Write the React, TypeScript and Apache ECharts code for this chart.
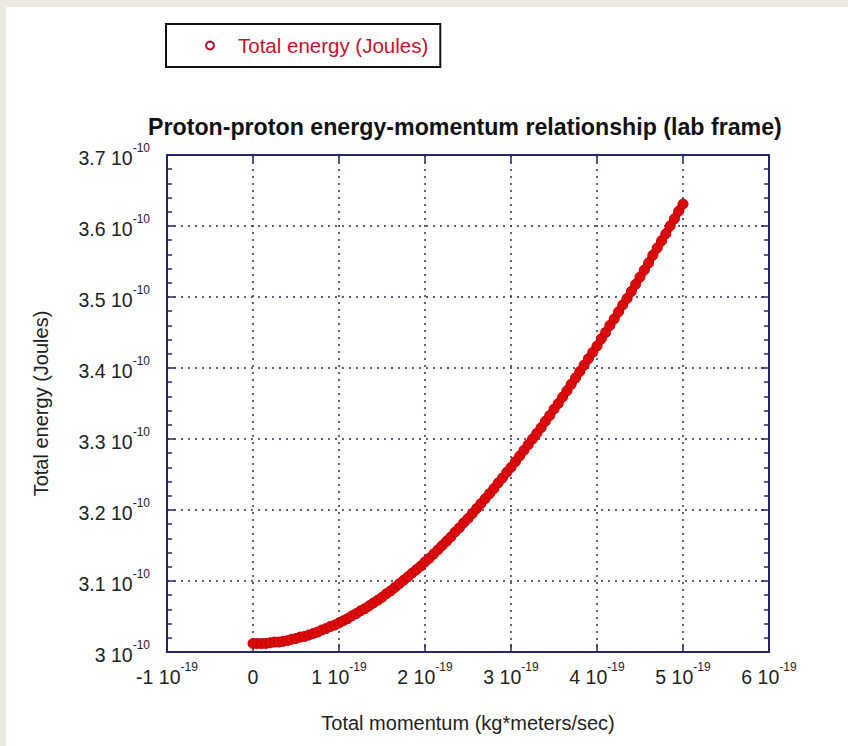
import React, { useEffect, useRef } from 'react';
import * as echarts from 'echarts';

const FONT = "'Liberation Sans', Arial, sans-serif";

// Total momentum (units of 1e-19 kg*m/s)
const momentum = [
  0, 0.05, 0.1, 0.15, 0.2, 0.25, 0.3, 0.35, 0.4, 0.45,
  0.5, 0.55, 0.6, 0.65, 0.7, 0.75, 0.8, 0.85, 0.9, 0.95,
  1.0, 1.05, 1.1, 1.15, 1.2, 1.25, 1.3, 1.35, 1.4, 1.45,
  1.5, 1.55, 1.6, 1.65, 1.7, 1.75, 1.8, 1.85, 1.9, 1.95,
  2.0, 2.05, 2.1, 2.15, 2.2, 2.25, 2.3, 2.35, 2.4, 2.45,
  2.5, 2.55, 2.6, 2.65, 2.7, 2.75, 2.8, 2.85, 2.9, 2.95,
  3.0, 3.05, 3.1, 3.15, 3.2, 3.25, 3.3, 3.35, 3.4, 3.45,
  3.5, 3.55, 3.6, 3.65, 3.7, 3.75, 3.8, 3.85, 3.9, 3.95,
  4.0, 4.05, 4.1, 4.15, 4.2, 4.25, 4.3, 4.35, 4.4, 4.45,
  4.5, 4.55, 4.6, 4.65, 4.7, 4.75, 4.8, 4.85, 4.9, 4.95,
  5.0,
];

// Total energy (units of 1e-10 J)
const energy = [
  3.012, 3.012, 3.012, 3.012, 3.013, 3.014, 3.014, 3.015, 3.016, 3.018,
  3.019, 3.021, 3.022, 3.024, 3.026, 3.028, 3.031, 3.033, 3.036, 3.038,
  3.041, 3.044, 3.047, 3.051, 3.054, 3.058, 3.061, 3.065, 3.069, 3.073,
  3.077, 3.082, 3.086, 3.091, 3.096, 3.101, 3.106, 3.111, 3.116, 3.121,
  3.127, 3.132, 3.138, 3.144, 3.150, 3.156, 3.162, 3.169, 3.175, 3.182,
  3.188, 3.195, 3.202, 3.209, 3.216, 3.223, 3.230, 3.238, 3.245, 3.253,
  3.260, 3.268, 3.276, 3.284, 3.292, 3.300, 3.308, 3.316, 3.325, 3.333,
  3.342, 3.350, 3.359, 3.368, 3.377, 3.386, 3.395, 3.404, 3.413, 3.422,
  3.431, 3.441, 3.450, 3.460, 3.469, 3.479, 3.489, 3.498, 3.508, 3.518,
  3.528, 3.538, 3.548, 3.559, 3.569, 3.579, 3.589, 3.600, 3.610, 3.621,
  3.631,
];

const xTickExponent = '-19';
const yTickExponent = '-10';
const seriesName = 'Total energy (Joules)';
const titleText = 'Proton-proton energy-momentum relationship (lab frame)';
const xName = 'Total momentum (kg*meters/sec)';
const yName = 'Total energy (Joules)';

const NAVY = '#26266e';
const GRID = '#2e2e50';
const LABEL = '#222222';
const RED = '#dc0a0a';

const richLabel = {
  b: { fontSize: 19.5, color: LABEL, fontFamily: FONT, padding: [6, 0, 0, 0] },
  s: { fontSize: 12, color: LABEL, fontFamily: FONT, verticalAlign: 'top' },
};

const fmt = (v: number, exp: string) => {
  const n = Number(v.toFixed(1));
  if (n === 0 && exp === xTickExponent) return '{b|0}';
  return `{b|${n} 10}{s|${exp}}`;
};

export default function App() {
  const ref = useRef<HTMLDivElement>(null);
  useEffect(() => {
    if (!ref.current) return;
    const chart = echarts.init(ref.current, null, { renderer: 'svg' });
    const data = momentum.map((m, i) => [m, energy[i]]);
    const frameAxisCommon = {
      axisLine: { show: true, onZero: false, lineStyle: { color: NAVY, width: 2 } },
    };
    chart.setOption({
      animation: false,
      backgroundColor: '#ffffff',
      textStyle: { fontFamily: FONT },
      title: {
        text: titleText,
        left: 137,
        top: 103,
        textStyle: { fontSize: 23.2, fontWeight: 'bold', color: '#111', fontFamily: FONT },
      },
      legend: {
        left: 160,
        top: 17,
        orient: 'horizontal',
        padding: [11, 12, 11, 39],
        borderColor: '#111',
        borderWidth: 2,
        borderRadius: 0,
        itemWidth: 46,
        itemHeight: 8,
        data: [{ name: seriesName, icon: 'emptyCircle' }],
        itemStyle: { color: '#b0102a', borderWidth: 1.5 },
        textStyle: { color: '#c8102e', fontSize: 20.5, fontFamily: FONT },
      },
      grid: { left: 161, top: 148, right: 79, bottom: 94, containLabel: false },
      xAxis: [
        {
          type: 'value',
          position: 'bottom',
          min: -1,
          max: 6,
          interval: 1,
          name: xName,
          nameLocation: 'middle',
          nameGap: 61,
          nameTextStyle: { fontSize: 20, color: LABEL, fontFamily: FONT },
          ...frameAxisCommon,
          axisTick: { show: true, inside: true, length: 8, lineStyle: { color: NAVY, width: 1.5 } },
          axisLabel: {
            margin: 9,
            formatter: (v: number) => fmt(v, xTickExponent),
            rich: richLabel,
          },
          splitLine: { show: true, lineStyle: { color: GRID, width: 1.5, type: [2, 5] } },
        },
        {
          type: 'value',
          position: 'top',
          min: -1,
          max: 6,
          interval: 1,
          ...frameAxisCommon,
          axisTick: { show: true, inside: true, length: 8, lineStyle: { color: NAVY, width: 1.5 } },
          axisLabel: { show: false },
          splitLine: { show: false },
        },
      ],
      yAxis: [
        {
          type: 'value',
          position: 'left',
          min: 3.0,
          max: 3.7,
          interval: 0.1,
          name: yName,
          nameLocation: 'middle',
          nameGap: 116,
          nameRotate: 90,
          nameTextStyle: { fontSize: 20, color: LABEL, fontFamily: FONT },
          ...frameAxisCommon,
          axisTick: { show: true, inside: true, length: 8, lineStyle: { color: NAVY, width: 1.5 } },
          minorTick: { show: true, splitNumber: 5, length: 5, lineStyle: { color: NAVY, width: 1.5 } },
          axisLabel: {
            margin: 17,
            formatter: (v: number) => fmt(v, yTickExponent),
            rich: richLabel,
          },
          splitLine: { show: true, lineStyle: { color: GRID, width: 1.5, type: [2, 5] } },
        },
        {
          type: 'value',
          position: 'right',
          min: 3.0,
          max: 3.7,
          interval: 0.1,
          ...frameAxisCommon,
          axisTick: { show: true, inside: true, length: 8, lineStyle: { color: NAVY, width: 1.5 } },
          minorTick: { show: true, splitNumber: 5, length: 5, lineStyle: { color: NAVY, width: 1.5 } },
          axisLabel: { show: false },
          splitLine: { show: false },
        },
      ],
      series: [
        {
          name: 'band',
          type: 'line',
          xAxisIndex: 0,
          yAxisIndex: 0,
          showSymbol: false,
          silent: true,
          data,
          lineStyle: { color: RED, width: 8 },
          z: 1,
        },
        {
          name: seriesName,
          type: 'scatter',
          xAxisIndex: 0,
          yAxisIndex: 0,
          symbol: 'circle',
          symbolSize: 10,
          data,
          itemStyle: { color: RED, borderColor: '#c40000', borderWidth: 1, opacity: 1 },
          z: 2,
        },
      ],
    });
    return () => chart.dispose();
  }, []);
  return (
    <div
      style={{
        position: 'fixed',
        left: 0,
        top: 0,
        width: 848,
        height: 746,
        background: '#ECE9DF',
      }}
    >
      <div
        ref={ref}
        style={{ position: 'absolute', left: 6, top: 7, width: 842, height: 739, background: '#ffffff' }}
      />
    </div>
  );
}
